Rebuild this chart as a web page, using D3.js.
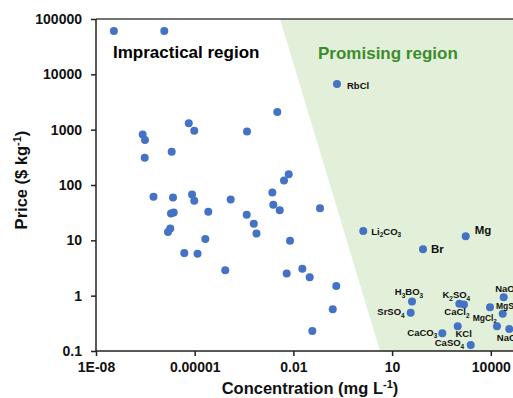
<!DOCTYPE html>
<html>
<head>
<meta charset="utf-8">
<script src="https://cdn.jsdelivr.net/npm/d3@7"></script>
<style>
  html, body { margin: 0; padding: 0; background: #fff; }
  svg { display: block; font-family: "Liberation Sans", Arial, sans-serif; }
  .axis path, .axis line { stroke: #222; stroke-width: 1.5; }
  .axis text { font-size: 14px; font-weight: bold; fill: #111; }
</style>
</head>
<body>
<div id="chart"></div>
<script>
// x tick positions / labels (every third decade), y every decade
const xTicks = [1e-8, 1e-5, 1e-2, 10, 1e4];
const xTickLabels = ['1E-08', '0.00001', '0.01', '10', '10000'];
const yTicks = [0.1, 1, 10, 100, 1000, 10000, 100000];
const yTickLabels = ['0.1', '1', '10', '100', '1000', '10000', '100000'];

// elements without a label (concentration mg/L, price $/kg)
const otherConc = [3.5e-8, 1.19e-6, 2.62e-7, 3.08e-7, 3.02e-7, 2.0e-6, 6.6e-6, 9.7e-6, 3.89e-4,
  5.6e-7, 2.19e-6, 8.3e-6, 9.7e-6, 1.24e-4, 1.9e-6, 2.3e-6, 2.59e-5, 1.81e-6, 1.54e-6, 2.1e-5,
  4.83e-6, 1.22e-5, 8.5e-5, 3.24e-3, 7.2e-3, 5.18e-3, 2.29e-3, 2.45e-3, 3.84e-3, 0.0644,
  3.81e-4, 6.25e-4, 7.55e-4, 7.89e-3, 6.25e-3, 0.0187, 0.0313, 0.201, 0.157, 0.0376, 15400];
const otherPrice = [60700, 60700, 822, 649, 310, 398, 1300, 955, 931,
  61.2, 59.7, 67.6, 51.8, 54.9, 30.6, 31.9, 32.7, 16.4, 14.1, 10.6,
  5.88, 5.75, 2.89, 2080, 157, 120, 73.5, 43.9, 34.8, 38.2,
  28.9, 19.9, 13.3, 9.8, 2.52, 3.05, 2.16, 1.49, 0.57, 0.231, 0.279];

// labelled compounds; {n} marks a subscript
const compounds = ['RbCl', 'Li{2}CO{3}', 'Mg', 'Br', 'H{3}BO{3}', 'SrSO{4}', 'K{2}SO{4}', 'CaCl{2}',
  'KCl', 'CaCO{3}', 'CaSO{4}', 'NaOH', 'MgSO{4}', 'MgCl{2}', 'NaCl'];
const compoundConc = [0.211, 1.33, 1726, 86.9, 40.3, 36.7, 1104, 1531, 986, 336, 2450, 24660, 9460, 23000, 36500];
const compoundPrice = [6680, 14.7, 11.9, 6.93, 0.785, 0.489, 0.711, 0.693, 0.281, 0.21, 0.129, 0.94, 0.62, 0.469, 0.249];

// promising-region boundary (data coords)
const regionConc = [0.00392, 4.29, 1e6, 1e6];
const regionPrice = [1e5, 0.1, 0.1, 1e5];

// label placement relative to the point
const labelPos = {
  'RbCl': { dx: 10, dy: 5, anchor: 'start', size: 9.5 },
  'Li{2}CO{3}': { dx: 8, dy: 3.5, anchor: 'start', size: 9.5 },
  'Mg': { dx: 9, dy: -2, anchor: 'start', size: 11.5 },
  'Br': { dx: 8, dy: 3.5, anchor: 'start', size: 11.5 },
  'H{3}BO{3}': { dx: -3, dy: -6, anchor: 'middle', size: 9.5 },
  'SrSO{4}': { dx: -6, dy: 2.5, anchor: 'end', size: 9.5 },
  'K{2}SO{4}': { dx: -3, dy: -6, anchor: 'middle', size: 9.5 },
  'CaCl{2}': { dx: -7, dy: 11, anchor: 'middle', size: 9.5 },
  'KCl': { dx: 6, dy: 10.5, anchor: 'middle', size: 9.5 },
  'CaCO{3}': { dx: -5, dy: 2.5, anchor: 'end', size: 9.5 },
  'CaSO{4}': { dx: -6.5, dy: 1.5, anchor: 'end', size: 9.5 },
  'NaOH': { dx: -8.5, dy: -5.5, anchor: 'start', size: 9.5 },
  'MgSO{4}': { dx: 6, dy: 2, anchor: 'start', size: 8.5 },
  'MgCl{2}': { dx: -6, dy: 7, anchor: 'end', size: 8.5 },
  'NaCl': { dx: -12.5, dy: 11.5, anchor: 'start', size: 9.5 }
};

const W = 513, H = 398;
const margin = { top: 19, left: 96, bottom: 47 };
const decadeW = 32.9;

const svg = d3.select('#chart').append('svg')
  .attr('width', W).attr('height', H);

const x = d3.scaleLog()
  .domain([1e-8, 1e6])
  .range([margin.left, margin.left + 14 * decadeW]);
const y = d3.scaleLog()
  .domain([0.1, 1e5])
  .range([H - margin.bottom, margin.top]);

// promising region
svg.append('path')
  .attr('d', d3.line()(regionConc.map((c, i) => [x(c), y(regionPrice[i])])) + 'Z')
  .attr('fill', '#e2f0d9');

// top frame line
svg.append('line')
  .attr('x1', margin.left).attr('x2', W)
  .attr('y1', y(1e5)).attr('y2', y(1e5))
  .attr('stroke', '#444').attr('stroke-width', 1.5);

svg.append('g')
  .attr('class', 'axis')
  .attr('transform', `translate(${margin.left},0)`)
  .call(d3.axisLeft(y).tickValues(yTicks).tickSize(5).tickPadding(9)
    .tickFormat((d, i) => yTickLabels[i]))
  .call(g => g.select('.domain').attr('d', `M-0,${y(0.1)}V${y(1e5)}`));

svg.append('g')
  .attr('class', 'axis')
  .attr('transform', `translate(0,${y(0.1)})`)
  .call(d3.axisBottom(x).tickValues(xTicks).tickSize(5).tickPadding(6)
    .tickFormat((d, i) => xTickLabels[i]))
  .call(g => g.select('.domain').attr('d', `M${margin.left},0H${W}`));

// region titles
svg.append('text')
  .attr('x', 113).attr('y', 58)
  .attr('font-size', 17).attr('font-weight', 'bold').attr('fill', '#000')
  .text('Impractical region');
svg.append('text')
  .attr('x', 318).attr('y', 58.5)
  .attr('font-size', 17).attr('font-weight', 'bold').attr('fill', '#3d8c2c')
  .text('Promising region');

// points
const dotColor = '#4472c4';
svg.append('g').selectAll('circle')
  .data(otherConc.map((c, i) => [c, otherPrice[i]]))
  .join('circle')
  .attr('cx', d => x(d[0])).attr('cy', d => y(d[1]))
  .attr('r', 4).attr('fill', dotColor);

const labelled = compounds.map((n, i) => ({ name: n, conc: compoundConc[i], price: compoundPrice[i] }));

svg.append('g').selectAll('circle')
  .data(labelled)
  .join('circle')
  .attr('cx', d => x(d.conc)).attr('cy', d => y(d.price))
  .attr('r', 4).attr('fill', dotColor);

// chemical formula with subscripts, no empty tspans
function writeChem(textSel, name, size) {
  const parts = name.split(/(\{\d+\})/).filter(s => s.length);
  const shift = size * 0.28;
  let lowered = false;
  parts.forEach(p => {
    const sub = p.startsWith('{');
    const t = textSel.append('tspan');
    if (sub) {
      t.attr('font-size', size * 0.68).attr('dy', shift).text(p.slice(1, -1));
      lowered = true;
    } else {
      if (lowered) t.attr('dy', -shift);
      lowered = false;
      t.text(p);
    }
  });
}

svg.append('g').selectAll('text')
  .data(labelled)
  .join('text')
  .attr('x', d => x(d.conc) + labelPos[d.name].dx)
  .attr('y', d => y(d.price) + labelPos[d.name].dy)
  .attr('text-anchor', d => labelPos[d.name].anchor)
  .attr('font-size', d => labelPos[d.name].size)
  .attr('font-weight', 'bold')
  .attr('fill', '#111')
  .each(function (d) { writeChem(d3.select(this), d.name, labelPos[d.name].size); });

// axis titles
const xt = svg.append('text')
  .attr('x', 310).attr('y', 394)
  .attr('text-anchor', 'middle')
  .attr('font-size', 16.5).attr('font-weight', 'bold').attr('fill', '#111');
xt.append('tspan').text('Concentration (mg L');
xt.append('tspan').attr('font-size', 11).attr('dy', -6).text('-1');
xt.append('tspan').attr('dy', 6).text(')');

const yt = svg.append('text')
  .attr('transform', 'translate(27,180) rotate(-90)')
  .attr('text-anchor', 'middle')
  .attr('font-size', 16.5).attr('font-weight', 'bold').attr('fill', '#111');
yt.append('tspan').text('Price ($ kg');
yt.append('tspan').attr('font-size', 11).attr('dy', -6).text('-1');
yt.append('tspan').attr('dy', 6).text(')');
</script>
</body>
</html>
